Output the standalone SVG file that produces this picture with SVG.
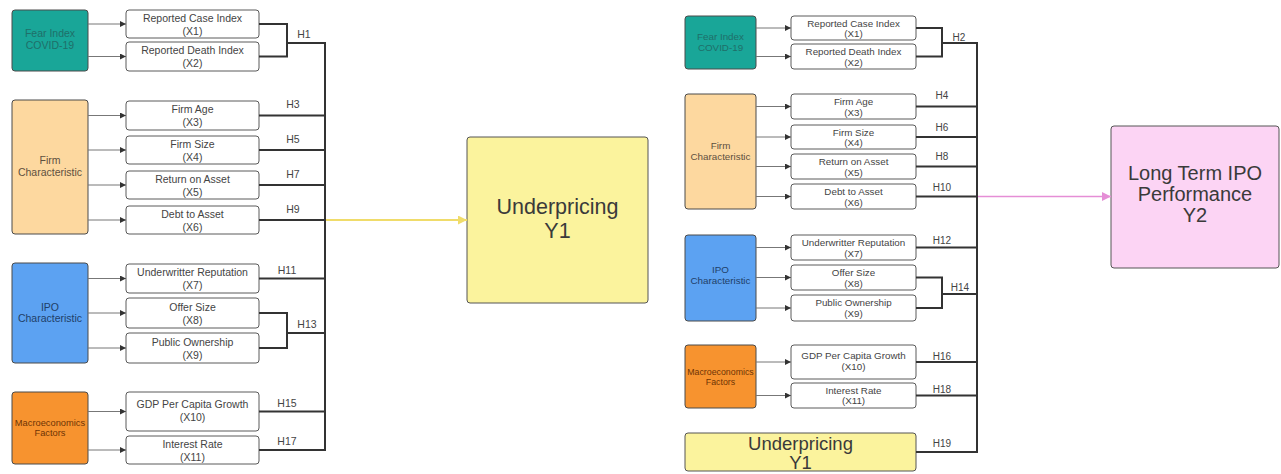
<svg xmlns="http://www.w3.org/2000/svg" width="1281" height="474" viewBox="0 0 1281 474">
<defs>
<marker id="ah" viewBox="0 0 10 10" refX="10" refY="5" markerWidth="6" markerHeight="6" markerUnits="userSpaceOnUse" orient="auto"><path d="M0,0 L10,5 L0,10 z" fill="#333"/></marker>
<marker id="ahY" viewBox="0 0 10 10" refX="10" refY="5" markerWidth="9" markerHeight="9" markerUnits="userSpaceOnUse" orient="auto"><path d="M0,0 L10,5 L0,10 z" fill="#f0dc6a"/></marker>
<marker id="ahP" viewBox="0 0 10 10" refX="10" refY="5" markerWidth="9" markerHeight="9" markerUnits="userSpaceOnUse" orient="auto"><path d="M0,0 L10,5 L0,10 z" fill="#e58ed6"/></marker>
</defs>
<style>
text{font-family:"Liberation Sans",Arial,sans-serif;text-anchor:middle}
.item rect{fill:#fff;stroke:#5a5a5a;stroke-width:1}
.item text{fill:#444;font-size:10.5px}
.r .item text{font-size:9.8px}
.grp rect{stroke:#4a4a4a;stroke-width:1}
.grp text{font-size:10.5px}
.r .grp text{font-size:9.8px}
.teal rect{fill:#19a698}.teal text{fill:#1f6f69}
.peach rect{fill:#fdd89f}.peach text{fill:#5e5040}
.blue rect{fill:#5ca2f2}.blue text{fill:#1f3f68}
.orange rect{fill:#f7932f}.orange text{fill:#6e3405}
.arr{stroke:#777;stroke-width:1;fill:none;marker-end:url(#ah)}
.br{stroke:#333;stroke-width:2;fill:none}
.h{fill:#444;font-size:10.5px}
.big rect{stroke:#555;stroke-width:1}
.big text{fill:#3a3a3a}
</style>

<!-- LEFT PANEL -->
<g class="l">
<g id="fear1" class="grp teal"><rect x="12" y="10" width="76" height="61" rx="3"/><text x="50" y="37">Fear Index</text><text x="50" y="49">COVID-19</text></g>
<g id="firm1" class="grp peach"><rect x="12" y="100" width="76" height="134" rx="3"/><text x="50" y="164">Firm</text><text x="50" y="176">Characteristic</text></g>
<g id="ipo1" class="grp blue"><rect x="12" y="263" width="76" height="100" rx="3"/><text x="50" y="311">IPO</text><text x="50" y="322">Characteristic</text></g>
<g id="macro1" class="grp orange"><rect x="12" y="392" width="76" height="72" rx="3"/><text x="50" y="426" style="font-size:9.3px">Macroeconomics</text><text x="50" y="436" style="font-size:9.3px">Factors</text></g>

<g id="l_x1" class="item"><rect x="126" y="10" width="133" height="28" rx="3"/><text x="192.5" y="22">Reported Case Index</text><text x="192.5" y="35">(X1)</text></g>
<g id="l_x2" class="item"><rect x="126" y="42" width="133" height="29" rx="3"/><text x="192.5" y="54">Reported Death Index</text><text x="192.5" y="67">(X2)</text></g>
<g id="l_x3" class="item"><rect x="126" y="101" width="133" height="29" rx="3"/><text x="192.5" y="113">Firm Age</text><text x="192.5" y="126">(X3)</text></g>
<g id="l_x4" class="item"><rect x="126" y="136" width="133" height="28" rx="3"/><text x="192.5" y="148">Firm Size</text><text x="192.5" y="161">(X4)</text></g>
<g id="l_x5" class="item"><rect x="126" y="171" width="133" height="28" rx="3"/><text x="192.5" y="183">Return on Asset</text><text x="192.5" y="196">(X5)</text></g>
<g id="l_x6" class="item"><rect x="126" y="206" width="133" height="28" rx="3"/><text x="192.5" y="218">Debt to Asset</text><text x="192.5" y="231">(X6)</text></g>
<g id="l_x7" class="item"><rect x="126" y="264" width="133" height="29" rx="3"/><text x="192.5" y="276">Underwritter Reputation</text><text x="192.5" y="289">(X7)</text></g>
<g id="l_x8" class="item"><rect x="126" y="298" width="133" height="30" rx="3"/><text x="192.5" y="311">Offer Size</text><text x="192.5" y="324">(X8)</text></g>
<g id="l_x9" class="item"><rect x="126" y="333" width="133" height="30" rx="3"/><text x="192.5" y="346">Public Ownership</text><text x="192.5" y="359">(X9)</text></g>
<g id="l_x10" class="item"><rect x="126" y="392" width="133" height="39" rx="3"/><text x="192.5" y="408">GDP Per Capita Growth</text><text x="192.5" y="421">(X10)</text></g>
<g id="l_x11" class="item"><rect x="126" y="436" width="133" height="28" rx="3"/><text x="192.5" y="448">Interest Rate</text><text x="192.5" y="461">(X11)</text></g>

<g id="under1" class="big"><rect x="467" y="137" width="181" height="166" rx="3" fill="#fbf39d"/><text x="557.5" y="214" style="font-size:21.5px">Underpricing</text><text x="557.5" y="238" style="font-size:21.5px">Y1</text></g>
</g>

<!-- RIGHT PANEL -->
<g class="r">
<g id="fear2" class="grp teal"><rect x="685" y="16" width="71" height="53" rx="3"/><text x="720.5" y="40">Fear Index</text><text x="720.5" y="51">COVID-19</text></g>
<g id="firm2" class="grp peach"><rect x="685" y="94" width="71" height="115" rx="3"/><text x="720.5" y="149">Firm</text><text x="720.5" y="160">Characteristic</text></g>
<g id="ipo2" class="grp blue"><rect x="685" y="235" width="71" height="86" rx="3"/><text x="720.5" y="273">IPO</text><text x="720.5" y="284">Characteristic</text></g>
<g id="macro2" class="grp orange"><rect x="685" y="345" width="71" height="63" rx="3"/><text x="720.5" y="375" style="font-size:8.8px">Macroeconomics</text><text x="720.5" y="385" style="font-size:8.8px">Factors</text></g>

<g id="r_x1" class="item"><rect x="791" y="16" width="125" height="24" rx="3"/><text x="853.5" y="27">Reported Case Index</text><text x="853.5" y="37">(X1)</text></g>
<g id="r_x2" class="item"><rect x="791" y="44" width="125" height="25" rx="3"/><text x="853.5" y="55">Reported Death Index</text><text x="853.5" y="65.5">(X2)</text></g>
<g id="r_x3" class="item"><rect x="791" y="94" width="125" height="25" rx="3"/><text x="853.5" y="105">Firm Age</text><text x="853.5" y="115.5">(X3)</text></g>
<g id="r_x4" class="item"><rect x="791" y="125" width="125" height="24" rx="3"/><text x="853.5" y="135.5">Firm Size</text><text x="853.5" y="146">(X4)</text></g>
<g id="r_x5" class="item"><rect x="791" y="154" width="125" height="25" rx="3"/><text x="853.5" y="165">Return on Asset</text><text x="853.5" y="175.5">(X5)</text></g>
<g id="r_x6" class="item"><rect x="791" y="184" width="125" height="25" rx="3"/><text x="853.5" y="195">Debt to Asset</text><text x="853.5" y="205.5">(X6)</text></g>
<g id="r_x7" class="item"><rect x="791" y="235" width="125" height="25" rx="3"/><text x="853.5" y="246">Underwritter Reputation</text><text x="853.5" y="256.5">(X7)</text></g>
<g id="r_x8" class="item"><rect x="791" y="265" width="125" height="25" rx="3"/><text x="853.5" y="276">Offer Size</text><text x="853.5" y="286.5">(X8)</text></g>
<g id="r_x9" class="item"><rect x="791" y="295" width="125" height="26" rx="3"/><text x="853.5" y="306">Public Ownership</text><text x="853.5" y="316.5">(X9)</text></g>
<g id="r_x10" class="item"><rect x="791" y="345" width="125" height="34" rx="3"/><text x="853.5" y="359">GDP Per Capita Growth</text><text x="853.5" y="370">(X10)</text></g>
<g id="r_x11" class="item"><rect x="791" y="383" width="125" height="25" rx="3"/><text x="853.5" y="393.5">Interest Rate</text><text x="853.5" y="404">(X11)</text></g>

<g id="under2" class="big"><rect x="685" y="433" width="231" height="38" rx="3" fill="#fbf39d"/><text x="800.5" y="450" style="font-size:18.5px">Underpricing</text><text x="800.5" y="469" style="font-size:18.5px">Y1</text></g>
<g id="ltp" class="big"><rect x="1111" y="126" width="168" height="142" rx="3" fill="#fcd4f4"/><text x="1195" y="180" style="font-size:20px">Long Term IPO</text><text x="1195" y="201" style="font-size:20px">Performance</text><text x="1195" y="222" style="font-size:20px">Y2</text></g>
</g>

<!-- CONNECTORS -->
<g id="connectors">
<path class="arr" d="M88,24H126"/><path class="arr" d="M88,56.5H126"/>
<path class="arr" d="M88,115.5H126"/><path class="arr" d="M88,150H126"/><path class="arr" d="M88,185H126"/><path class="arr" d="M88,220H126"/>
<path class="arr" d="M88,278.5H126"/><path class="arr" d="M88,313H126"/><path class="arr" d="M88,348H126"/>
<path class="arr" d="M88,411.5H126"/><path class="arr" d="M88,450H126"/>

<path class="br" d="M259,24H287V56.5H259M287,43H325"/>
<path class="br" d="M259,115.5H325M259,150H325M259,185H325M259,220H325M259,278.5H325"/>
<path class="br" d="M259,313H287V348H259M287,333H325"/>
<path class="br" d="M259,411.5H325M259,450H325M325,42V451"/>
<path d="M326,220H467" stroke="#f0dc6a" stroke-width="2" fill="none" marker-end="url(#ahY)"/>

<path class="arr" d="M756,28H791"/><path class="arr" d="M756,56.5H791"/>
<path class="arr" d="M756,106.5H791"/><path class="arr" d="M756,137H791"/><path class="arr" d="M756,166.5H791"/><path class="arr" d="M756,196.5H791"/>
<path class="arr" d="M756,247.5H791"/><path class="arr" d="M756,277.5H791"/><path class="arr" d="M756,308H791"/>
<path class="arr" d="M756,362H791"/><path class="arr" d="M756,395.5H791"/>

<path class="br" d="M916,28H942V56.5H916M942,43H977"/>
<path class="br" d="M916,106.5H977M916,137H977M916,166.5H977M916,196.5H977M916,247.5H977"/>
<path class="br" d="M916,277.5H942V308H916M942,294H977"/>
<path class="br" d="M916,362H977M916,395.5H977M916,452H977M977,42V453"/>
<path d="M978,196.5H1111" stroke="#e58ed6" stroke-width="1.5" fill="none" marker-end="url(#ahP)"/>

<text class="h" x="304" y="38">H1</text>
<text class="h" x="293" y="108">H3</text>
<text class="h" x="293" y="143">H5</text>
<text class="h" x="293" y="178">H7</text>
<text class="h" x="293" y="213">H9</text>
<text class="h" x="287" y="274">H11</text>
<text class="h" x="307" y="328">H13</text>
<text class="h" x="287" y="407">H15</text>
<text class="h" x="287" y="445">H17</text>

<text class="h" x="959" y="41" style="font-size:10px">H2</text>
<text class="h" x="942" y="99" style="font-size:10px">H4</text>
<text class="h" x="942" y="131" style="font-size:10px">H6</text>
<text class="h" x="942" y="160" style="font-size:10px">H8</text>
<text class="h" x="942" y="191" style="font-size:10px">H10</text>
<text class="h" x="942" y="244" style="font-size:10px">H12</text>
<text class="h" x="960" y="291" style="font-size:10px">H14</text>
<text class="h" x="942" y="360" style="font-size:10px">H16</text>
<text class="h" x="942" y="393" style="font-size:10px">H18</text>
<text class="h" x="942" y="447" style="font-size:10px">H19</text>
</g>
</svg>
